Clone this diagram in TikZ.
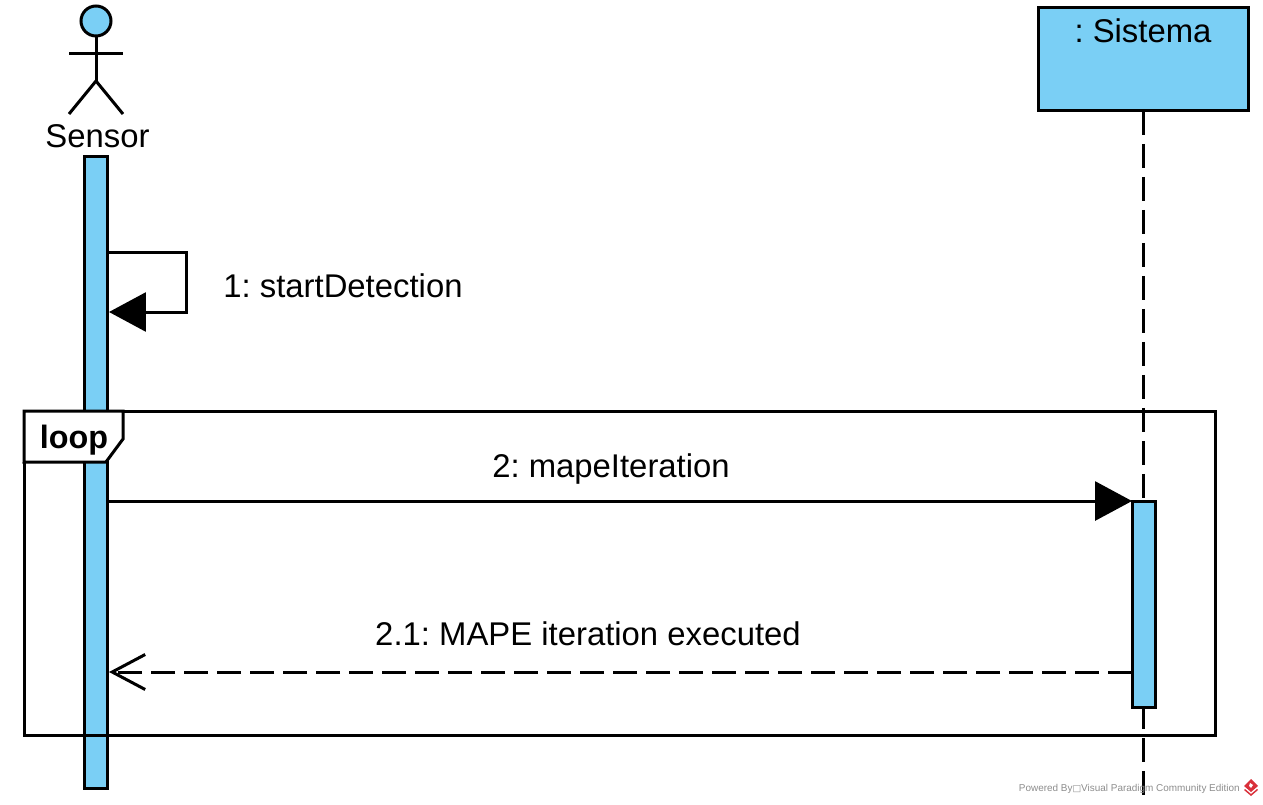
\documentclass[tikz,border=0pt]{standalone}
\usepackage{fontspec}
\setmainfont{Liberation Sans}
\newfontfamily\boxfont{DejaVu Sans}
\usetikzlibrary{arrows.meta}
\definecolor{lifeblue}{HTML}{7ACFF5}
\definecolor{markgray}{HTML}{8C8C8C}
\definecolor{markred}{HTML}{D9303A}
\frenchspacing
\tikzset{
	umlline/.style={black, line width=0.06cm},
	bluebox/.style={draw, umlline, fill=lifeblue, outer sep=0pt, inner sep=0pt},
	msgtext/.style={anchor=base, inner sep=0pt, font=\fontsize{18.7pt}{22pt}\selectfont},
	dashline/.style={umlline, dash pattern=on 0.48cm off 0.18cm},
	fullhead/.style={-{Triangle[length=0.74cm, width=0.78cm]}},
	openhead/.style={-{Straight Barb[length=0.66cm, width=0.7cm, line width=0.06cm]}}
}
\begin{document}
\begin{tikzpicture}[x=0.02cm, y=-0.02cm]
	\useasboundingbox (0,0) rectangle (1263,804);
	% actor
	\node[bluebox, circle, minimum size=0.6cm] (head) at (96,21) {};
	\coordinate (hip) at (96,81);
	\coordinate (armL) at (69,54);
	\coordinate (armR) at (123,54);
	\coordinate (footL) at (69,114);
	\coordinate (footR) at (123,114);
	\draw[umlline] (head.south)--(hip);
	\draw[umlline] (armL)--(armR);
	\draw[umlline] (footL)--(hip)--(footR);
	\node[msgtext] (sensorlabel) at (97.5,148) {Sensor};
	% lifelines
	\node[bluebox, minimum width=4.2cm, minimum height=2.08cm] (sistema) at (1143,59) {};
	\node[msgtext] (sistemalabel) at (1143,43) {: Sistema};
	\coordinate (lifeend) at (1143,798);
	\draw[dashline] (sistema.south)--(lifeend);
	\node[bluebox, minimum width=0.46cm, minimum height=12.66cm] (sensorbar) at (96,472.5) {};
	\node[bluebox, minimum width=0.46cm, minimum height=4.14cm] (sistemabar) at (1143.5,604.5) {};
	% self message
	\coordinate (selfA) at (sensorbar.east |- 0,252);
	\coordinate (selfB) at (186.5,252);
	\coordinate (selfC) at (186.5,312);
	\coordinate (selfD) at (sensorbar.east |- 0,312);
	\draw[umlline, fullhead, shorten >=0.03cm] (selfA)--(selfB)--(selfC)--(selfD);
	\node[msgtext, anchor=base west] (startlabel) at (223,297) {1: startDetection};
	% loop frame
	\node[draw, umlline, minimum width=23.84cm, minimum height=6.5cm, outer sep=0pt] (loopframe) at (620,573.5) {};
	\draw[umlline, fill=white] (loopframe.north west)--(123,411)--(123,439)--(106,462)--(24,462)--cycle;
	\node[msgtext, anchor=base west, font=\fontsize{18.4pt}{22pt}\selectfont\bfseries] (looplabel) at (39.5,448) {loop};
	% messages
	\coordinate (callstart) at (sensorbar.east |- sistemabar.north west);
	\draw[umlline, fullhead] (callstart)--(sistemabar.north west);
	\node[msgtext] (calllabel) at (611,477) {2: mapeIteration};
	\coordinate (replystart) at (sistemabar.west |- 0,672);
	\coordinate (replyend) at (sensorbar.east |- 0,672);
	\draw[dashline, openhead, shorten >=0.03cm] (replystart)--(replyend);
	\node[msgtext] (replylabel) at (588,645) {2.1: MAPE iteration executed};
	% watermark
	\node[anchor=base east, inner sep=0pt, text=markgray, font=\fontsize{5.66pt}{7pt}\selectfont] (powered) at (1240,791) {Powered By{\boxfont\fontsize{5.2pt}{6pt}\selectfont □}Visual Paradigm Community Edition};
	\fill[markred] (1251,779)--(1258,786)--(1251,792)--(1244,786)--cycle;
	\fill[markred] (1245,789)--(1251,794)--(1257,789)--(1258,790)--(1251,796)--(1244,790)--cycle;
	\fill[white] (1250,783)--(1253,785)--(1251,788)--(1249,786)--cycle;
\end{tikzpicture}
\end{document}
